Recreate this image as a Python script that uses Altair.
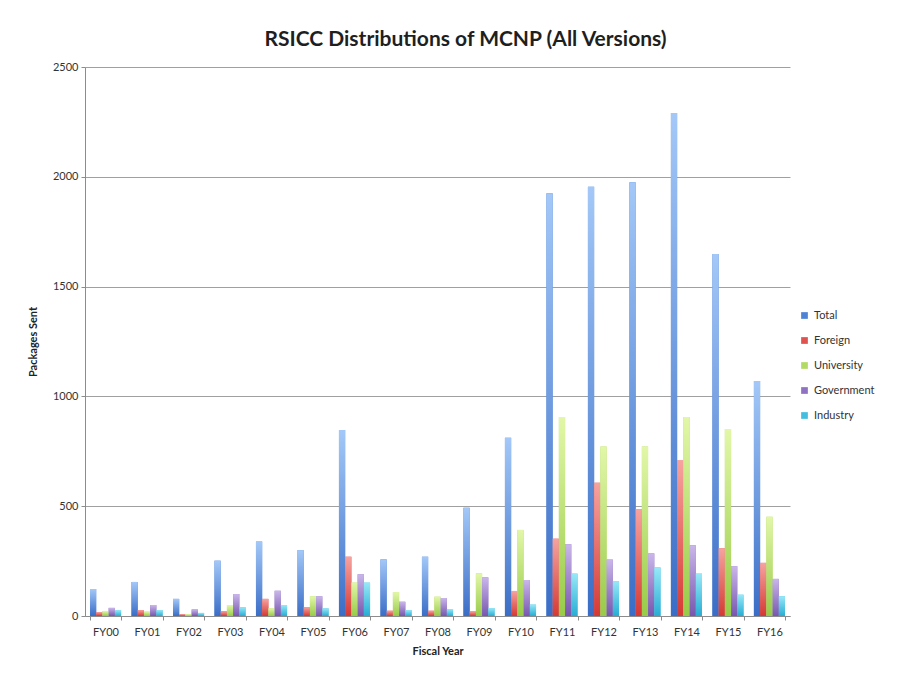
import altair as alt
import pandas as pd

years = ["FY00", "FY01", "FY02", "FY03", "FY04", "FY05", "FY06", "FY07", "FY08",
         "FY09", "FY10", "FY11", "FY12", "FY13", "FY14", "FY15", "FY16"]
series = ["Total", "Foreign", "University", "Government", "Industry"]

total = [123, 155, 78, 252, 339, 300, 847, 258, 270, 493, 812, 1925, 1955, 1975, 2290, 1649, 1070]
foreign = [18, 27, 8, 22, 78, 40, 270, 24, 24, 21, 114, 352, 607, 487, 708, 309, 242]
university = [23, 20, 8, 50, 35, 90, 152, 109, 88, 194, 392, 906, 772, 772, 906, 851, 452]
government = [37, 50, 30, 100, 115, 90, 190, 65, 82, 176, 164, 327, 257, 285, 322, 227, 169]
industry = [27, 27, 14, 40, 50, 35, 152, 27, 32, 36, 52, 193, 159, 221, 193, 97, 90]

values = {"Total": total, "Foreign": foreign, "University": university,
          "Government": government, "Industry": industry}

mid_colors = ["#4F83D6", "#E0524E", "#B3DA62", "#8F72C2", "#44BEE0"]
grad_stops = {
    "Total": ("#A3C8F8", "#3A6DC6"),
    "Foreign": ("#F6A3A0", "#D53934"),
    "University": ("#E2F7A8", "#98CB48"),
    "Government": ("#CAB6EA", "#7757AE"),
    "Industry": ("#98E8F7", "#27ADD4"),
}

rows = []
for s in series:
    for y, v in zip(years, values[s]):
        rows.append({"Year": y, "Series": s, "Value": v})
df = pd.DataFrame(rows)

FONT = "Lato"

x_enc = alt.X("Year:N", sort=years,
              scale=alt.Scale(paddingInner=0.25, paddingOuter=0.12),
              axis=alt.Axis(title="Fiscal Year", labelAngle=0, tickBand="extent",
                            tickSize=4, labelPadding=6, titlePadding=8))
xo_enc = alt.XOffset("Series:N", sort=series, scale=alt.Scale(domain=series))
y_enc = alt.Y("Value:Q",
              scale=alt.Scale(domain=[0, 2500]),
              axis=alt.Axis(title="Packages Sent", values=[0, 500, 1000, 1500, 2000, 2500],
                            format="d", tickSize=4, labelPadding=3, titlePadding=14,
                            grid=True))

base = alt.Chart(df).encode(x=x_enc, xOffset=xo_enc, y=y_enc)

legend_layer = base.mark_bar().encode(
    color=alt.Color("Series:N", sort=series,
                    scale=alt.Scale(domain=series, range=mid_colors),
                    legend=alt.Legend(title=None, orient="none", legendX=714, legendY=243,
                                      symbolType="square", symbolSize=45,
                                      rowPadding=13, labelFontSize=11, labelFont=FONT,
                                      labelColor="#333333", symbolStrokeWidth=0))
)

layers = [legend_layer]
for s in series:
    top, bottom = grad_stops[s]
    layers.append(
        base.transform_filter(alt.datum.Series == s).mark_bar(
            color=alt.Gradient(gradient="linear", x1=0, x2=0, y1=0, y2=1,
                               stops=[alt.GradientStop(color=top, offset=0),
                                      alt.GradientStop(color=bottom, offset=1)])
        )
    )

chart = alt.layer(*layers).properties(
    width=705, height=549,
    title=alt.TitleParams("RSICC Distributions of MCNP (All Versions)", font=FONT,
                          fontSize=21, fontWeight="bold", color="#1F1F1F",
                          anchor="middle", dx=28, offset=11),
    autosize=alt.AutoSizeParams(type="none"),
    padding={"left": 77, "top": 59, "right": 125, "bottom": 49},
).configure_view(stroke=None).configure_axis(
    labelFont=FONT, labelFontSize=11, labelColor="#333333",
    titleFont=FONT, titleFontSize=11, titleFontWeight="bold", titleColor="#222222",
    domainColor="#8C8C8C", tickColor="#8C8C8C", gridColor="#A0A0A0",
).configure_axisX(grid=False)

chart.save("out.html", embed_options={"renderer": "svg", "actions": False})
